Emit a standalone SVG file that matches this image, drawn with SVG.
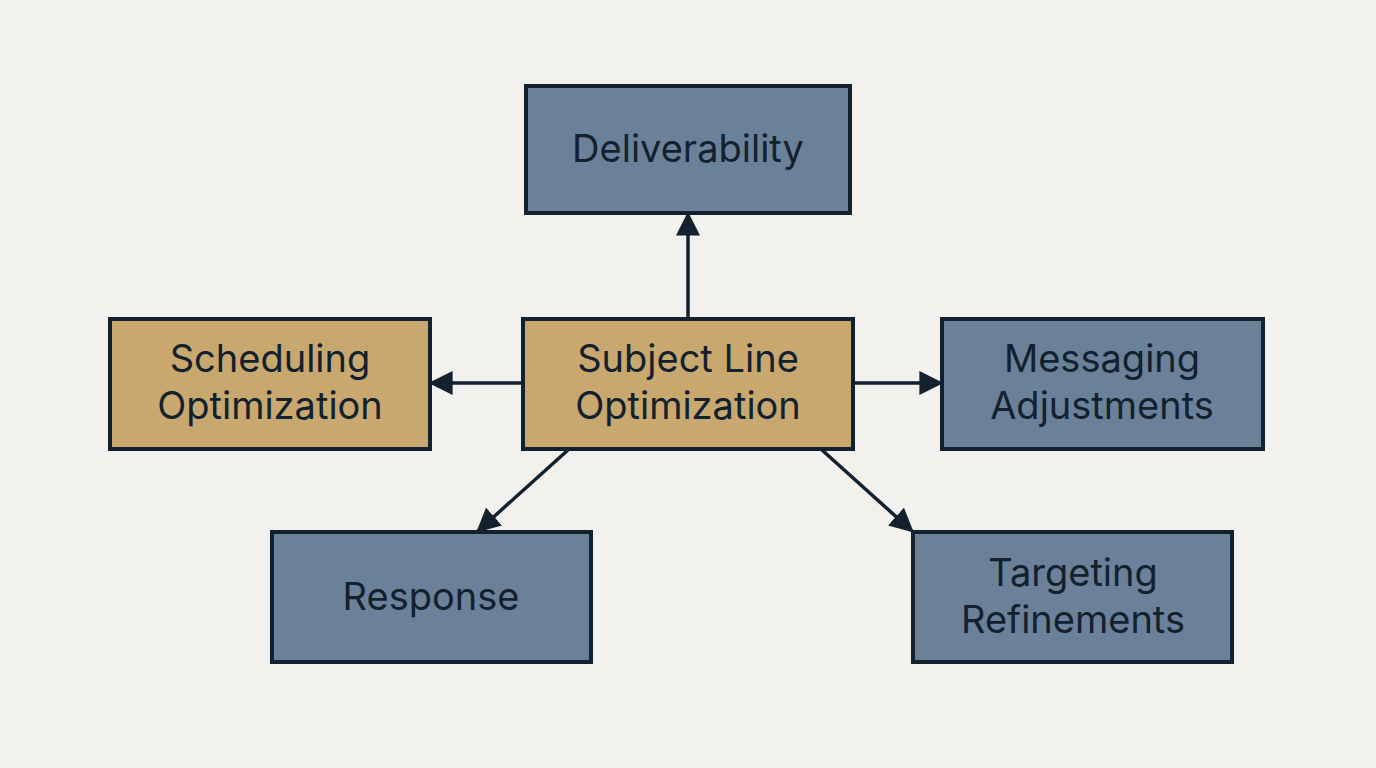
<svg xmlns="http://www.w3.org/2000/svg" width="1376" height="768" viewBox="0 0 1376 768">
<style>
.b{fill:#6a8199;stroke:#13212e;stroke-width:4}
.g{fill:#c9a870;stroke:#13212e;stroke-width:4}
text{font-family:Inter,"Noto Sans",sans-serif;font-size:38px;fill:#13212e;text-anchor:middle}
.c line{stroke:#13212e;stroke-width:3.5}
</style>
<defs><marker id="m" viewBox="0 0 10 10" refX="9" refY="5" markerWidth="24" markerHeight="24" markerUnits="userSpaceOnUse" orient="auto"><path d="M0,0L10,5L0,10z" fill="#13212e"/></marker></defs>
<rect width="1376" height="768" fill="#f2f1ed"/>
<g class="c">
<line x1="688" y1="319" x2="688" y2="214" marker-end="url(#m)"/>
<line x1="523" y1="383" x2="431" y2="383" marker-end="url(#m)"/>
<line x1="853" y1="383" x2="941" y2="383" marker-end="url(#m)"/>
<line x1="568" y1="450" x2="478" y2="531" marker-end="url(#m)"/>
<line x1="822" y1="450" x2="912" y2="531" marker-end="url(#m)"/>
</g>
<g id="deliverability"><rect class="b" x="526" y="86" width="324" height="127"/><text x="688" y="162">Deliverability</text></g>
<g id="scheduling"><rect class="g" x="110" y="319" width="320" height="130"/><text x="270" y="372">Scheduling</text><text x="270" y="419">Optimization</text></g>
<g id="subject"><rect class="g" x="523" y="319" width="330" height="130"/><text x="688" y="372">Subject Line</text><text x="688" y="419">Optimization</text></g>
<g id="messaging"><rect class="b" x="942" y="319" width="321" height="130"/><text x="1102" y="372">Messaging</text><text x="1102" y="419">Adjustments</text></g>
<g id="response"><rect class="b" x="272" y="532" width="319" height="130"/><text x="431" y="610">Response</text></g>
<g id="targeting"><rect class="b" x="913" y="532" width="319" height="130"/><text x="1073" y="586">Targeting</text><text x="1073" y="633">Refinements</text></g>
</svg>
